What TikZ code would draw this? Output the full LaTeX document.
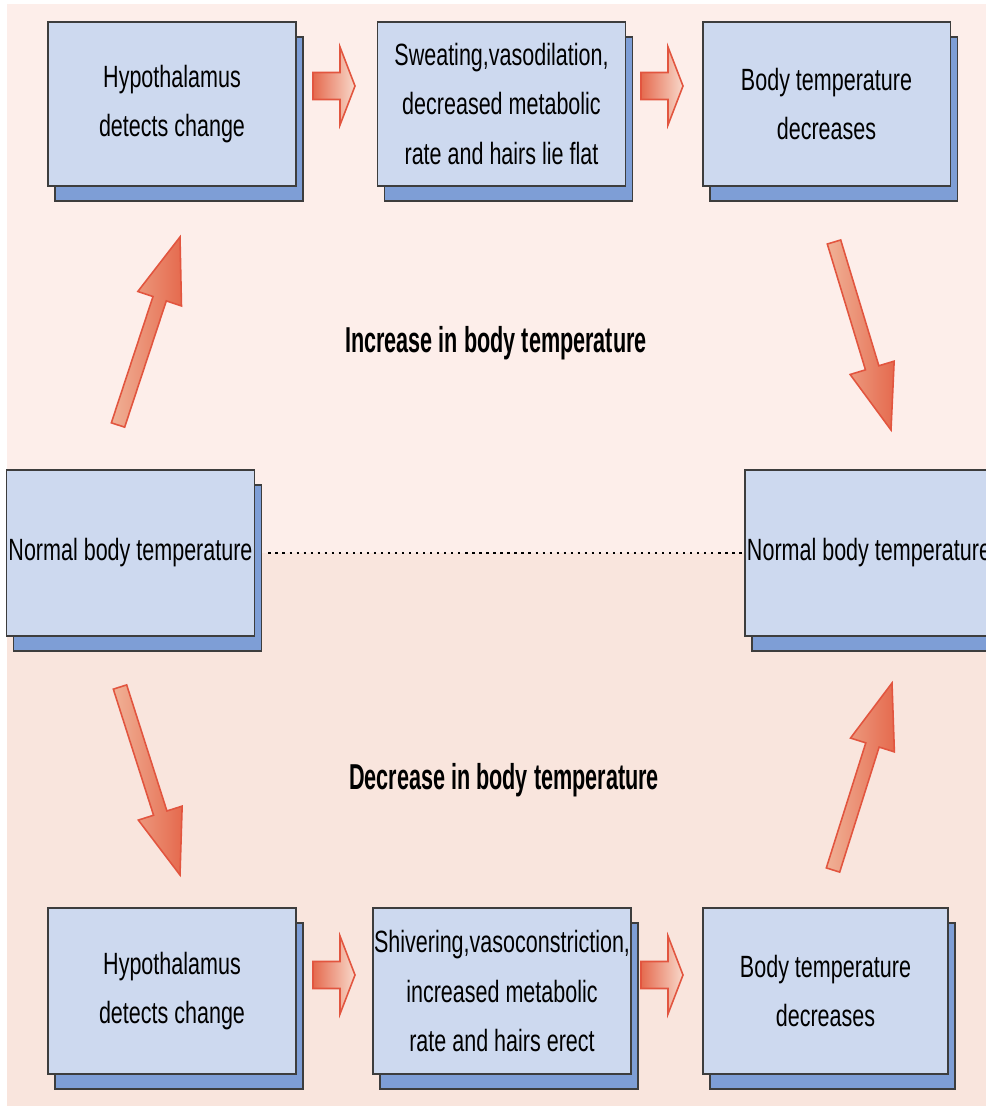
\documentclass[tikz,border=0pt]{standalone}
\usepackage{fontspec}
\newfontfamily\boxfont[FakeStretch=0.70]{Liberation Sans}
\newfontfamily\bandfont[FakeStretch=0.60]{Liberation Sans}
\usetikzlibrary{calc,shadows}

\definecolor{bgtop}{HTML}{FDEEEA}
\definecolor{bgbottom}{HTML}{F9E5DD}
\definecolor{boxfill}{HTML}{CDD9EF}
\definecolor{boxshade}{HTML}{7E9ED6}
\definecolor{boxline}{HTML}{3D3D3D}
\definecolor{arrowline}{HTML}{E2553F}
\definecolor{arrowlight}{HTML}{F8D9CB}
\definecolor{arrowmid}{HTML}{F0B196}
\definecolor{arrowdark}{HTML}{E56A4E}

% block arrow: [style]{tail}{tip}{shaft half width}{head half width}{head length}
\newcommand{\blockarrow}[6][]{%
    \coordinate (ba-h) at ($(#3)!#6!(#2)$);
    \draw[#1] ($(#2)!#4!90:(#3)$) -- ($(ba-h)!#4!90:(#3)$) -- ($(ba-h)!#5!90:(#3)$)
        -- (#3) -- ($(ba-h)!#5!-90:(#3)$) -- ($(ba-h)!#4!-90:(#3)$) -- ($(#2)!#4!-90:(#3)$) -- cycle;
}

\begin{document}
\begin{tikzpicture}[x=0.02cm, y=-0.02cm,
    box/.style={draw=boxline, line width=1.1pt, fill=boxfill, minimum width=4.96cm,
        minimum height=3.28cm, inner sep=0pt, align=center,
        font=\boxfont\fontsize{17.5pt}{27.9pt}\selectfont,
        copy shadow={shadow xshift=0.14cm, shadow yshift=-0.30cm, fill=boxshade, draw=boxline}},
    bandlabel/.style={anchor=base, inner sep=0pt, font=\bandfont\bfseries\fontsize{20.5pt}{24pt}\selectfont},
    slantarrow/.style={draw=arrowline, line width=0.9pt, left color=arrowmid, right color=arrowdark},
    steparrow/.style={draw=arrowline, line width=0.9pt, left color=arrowdark, right color=arrowlight},
    dotline/.style={line width=1.3pt, dash pattern=on 1.3pt off 2.7pt}]
    \useasboundingbox (0,0) rectangle (986,1111);
    \clip (0,0) rectangle (986,1111);

    % ==========================================
    % Background bands
    % ==========================================
    \fill[bgtop] (7,4) rectangle (986,553);
    \fill[bgbottom] (7,553) rectangle (986,1106);

    % ==========================================
    % Upper loop: increase in body temperature
    % ==========================================
    \node[box] (hypoT) at (172,104) {Hypothalamus\\detects change};
    \node[box] (effT) at (501.5,104) {Sweating,vasodilation,\\decreased metabolic\\rate and hairs lie flat};
    \node[box] (bodyT) at (826.5,104) {Body temperature\\decreases};

    % ==========================================
    % Set point
    % ==========================================
    \node[box, minimum height=3.32cm] (normL) at (130.5,553) {Normal body temperature};
    \node[box, minimum height=3.32cm] (normR) at (869,553) {Normal body temperature};
    \draw[dotline, shorten <=0.26cm] (normL.east) -- (normR.west);

    % ==========================================
    % Lower loop: decrease in body temperature
    % ==========================================
    \node[box, minimum height=3.32cm] (hypoB) at (172,991) {Hypothalamus\\detects change};
    \node[box, minimum height=3.32cm, minimum width=5.16cm] (effB) at (502,991) {Shivering,vasoconstriction,\\increased metabolic\\rate and hairs erect};
    \node[box, minimum height=3.32cm, minimum width=4.9cm] (bodyB) at (825.5,991) {Body temperature\\decreases};

    % Band labels
    \node[bandlabel] (incr) at (496,352) {Increase in body temperature};
    \node[bandlabel] (decr) at (504,789) {Decrease in body temperature};

    % ==========================================
    % Block arrows
    % ==========================================
    \coordinate (upT-s) at (118,425);   \coordinate (upT-e) at (180,237);
    \coordinate (dnT-s) at (834,242);   \coordinate (dnT-e) at (891,430);
    \coordinate (dnB-s) at (120,687);   \coordinate (dnB-e) at (180,875);
    \coordinate (upB-s) at (833,870);   \coordinate (upB-e) at (892,683);
    \blockarrow[slantarrow]{upT-s}{upT-e}{0.14cm}{0.46cm}{1.3cm}
    \blockarrow[slantarrow]{dnT-s}{dnT-e}{0.14cm}{0.46cm}{1.3cm}
    \blockarrow[slantarrow]{dnB-s}{dnB-e}{0.14cm}{0.46cm}{1.3cm}
    \blockarrow[slantarrow]{upB-s}{upB-e}{0.14cm}{0.46cm}{1.3cm}

    % Step arrows between boxes
    \coordinate (s1-s) at (313,86);   \coordinate (s1-e) at (355,86);
    \coordinate (s2-s) at (641,86);   \coordinate (s2-e) at (683,86);
    \coordinate (s3-s) at (313,975);  \coordinate (s3-e) at (355,975);
    \coordinate (s4-s) at (641,975);  \coordinate (s4-e) at (683,975);
    \blockarrow[steparrow]{s1-s}{s1-e}{0.27cm}{0.78cm}{0.3cm}
    \blockarrow[steparrow]{s2-s}{s2-e}{0.27cm}{0.78cm}{0.3cm}
    \blockarrow[steparrow]{s3-s}{s3-e}{0.27cm}{0.78cm}{0.3cm}
    \blockarrow[steparrow]{s4-s}{s4-e}{0.27cm}{0.78cm}{0.3cm}
\end{tikzpicture}
\end{document}
